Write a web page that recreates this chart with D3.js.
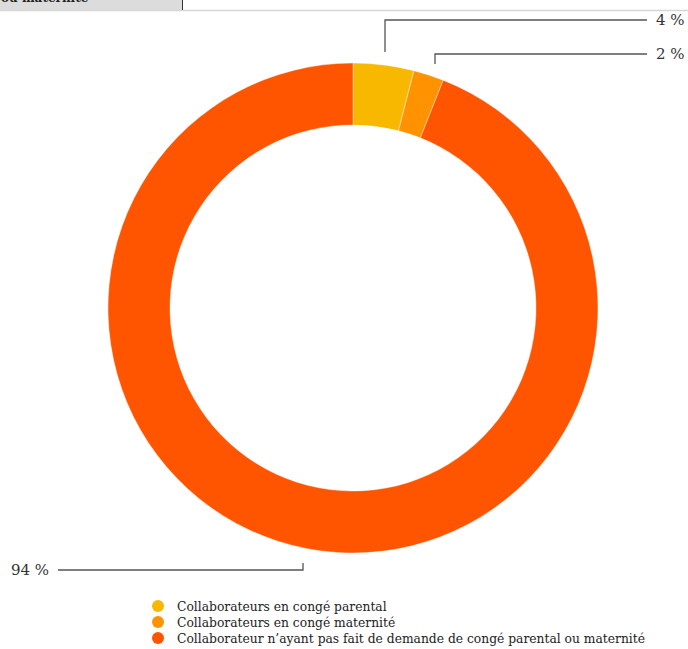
<!DOCTYPE html>
<html>
<head>
<meta charset="utf-8">
<script src="https://cdn.jsdelivr.net/npm/d3@7/dist/d3.min.js"></script>
<style>
  html, body { margin: 0; padding: 0; background: #fff; }
  svg { display: block; }
</style>
</head>
<body>
<svg id="chart" width="688" height="649"></svg>
<script>
// Congés parentaux / maternité : répartition des collaborateurs
const categories = [
  "Collaborateurs en congé parental",
  "Collaborateurs en congé maternité",
  "Collaborateur n’ayant pas fait de demande de congé parental ou maternité"
];
const values = [4, 2, 94];
const valueLabels = ["4 %", "2 %", "94 %"];
const colors = ["#F8B800", "#FF9200", "#FF5500"];

const svg = d3.select("#chart");
const W = 688, H = 649;
const font = "'DejaVu Serif', 'Liberation Serif', serif";

// Bottom edge of the table that precedes the chart
const table = svg.append("g");
table.append("rect").attr("x", 0).attr("y", 0).attr("width", 182).attr("height", 10).attr("fill", "#dcdcdc");
table.append("text").attr("x", 1).attr("y", 2)
  .attr("font-family", font).attr("font-weight", "bold").attr("font-size", 12).attr("fill", "#222")
  .text("ou maternité");
table.append("line").attr("x1", 0).attr("x2", W).attr("y1", 10.5).attr("y2", 10.5)
  .attr("stroke", "#d6d6d6").attr("stroke-width", 1.5);
table.append("line").attr("x1", 182.5).attr("x2", 182.5).attr("y1", 0).attr("y2", 10)
  .attr("stroke", "#333").attr("stroke-width", 1);

// Donut
const cx = 353, cy = 308, rOuter = 245, rInner = 183;
const pie = d3.pie().sort(null).value(d => d)(values);
const arc = d3.arc().innerRadius(rInner).outerRadius(rOuter);

const g = svg.append("g").attr("transform", `translate(${cx},${cy})`);
g.selectAll("path").data(pie).join("path")
  .attr("d", arc)
  .attr("fill", (d, i) => colors[i])
  .attr("stroke", "#fff").attr("stroke-width", 0.4);

// Leader lines and value labels
const lineColor = "#555";
const labelSpec = [
  { ax: 385, ay: 52, ky: 20, ex: 647, side: "right" },
  { ax: 435, ay: 64, ky: 54, ex: 647, side: "right" },
  { ax: 303, ay: 563, ky: 570, ex: 58, side: "left" }
];
const ann = svg.append("g");
labelSpec.forEach((s, i) => {
  ann.append("path")
    .attr("d", `M${s.ax},${s.ay}V${s.ky}H${s.ex}`)
    .attr("fill", "none").attr("stroke", lineColor).attr("stroke-width", 1.3);
  ann.append("text")
    .attr("x", s.side === "right" ? s.ex + 9 : s.ex - 9)
    .attr("y", s.ky + 5)
    .attr("text-anchor", s.side === "right" ? "start" : "end")
    .attr("font-family", font).attr("font-size", 15).attr("fill", "#333")
    .text(valueLabels[i]);
});

// Legend
const legend = svg.append("g").attr("transform", "translate(158,606)");
const items = legend.selectAll("g").data(categories).join("g")
  .attr("transform", (d, i) => `translate(0,${i * 16})`);
items.append("circle").attr("r", 6).attr("cx", 0).attr("cy", 0).attr("fill", (d, i) => colors[i]);
items.append("text").attr("x", 19).attr("y", 4.5)
  .attr("font-family", font).attr("font-size", 12.3).attr("fill", "#222")
  .text(d => d);
</script>
</body>
</html>
